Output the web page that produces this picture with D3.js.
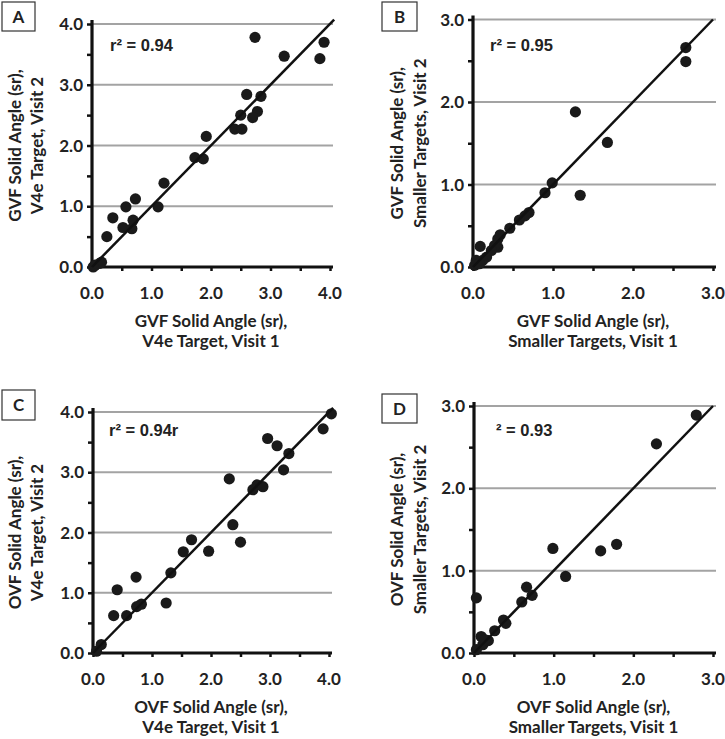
<!DOCTYPE html>
<html><head><meta charset="utf-8">
<script src="https://cdn.jsdelivr.net/npm/d3@7"></script>
<style>body{margin:0;background:#fff}svg{display:block}</style>
</head><body>
<svg id="c" width="725" height="739"></svg>
<script>
// ---- data ----
const panelLetters = ["A","B","C","D"];
const rLabels = ["r² = 0.94","r² = 0.95","r² = 0.94r","² = 0.93"];
const xTitles1 = ["GVF Solid Angle (sr),","GVF Solid Angle (sr),","OVF Solid Angle (sr),","OVF Solid Angle (sr),"];
const xTitles2 = ["V4e Target, Visit 1","Smaller Targets, Visit 1","V4e Target, Visit 1","Smaller Targets, Visit 1"];
const yTitles1 = ["GVF Solid Angle (sr),","GVF Solid Angle (sr),","OVF Solid Angle (sr),","OVF Solid Angle (sr),"];
const yTitles2 = ["V4e Target, Visit 2","Smaller Targets, Visit 2","V4e Target, Visit 2","Smaller Targets, Visit 2"];
const ticks4 = [0,1,2,3,4];
const ticks3 = [0,1,2,3];
const minor4 = [0,0.5,1,1.5,2,2.5,3,3.5,4];
const minor3 = [0,0.5,1,1.5,2,2.5,3];
const domainMax = [4,3,4,3];
const fitEnd = [4.07,3.0,4.07,3.0];

const aX = [2.74,3.90,3.83,3.23,2.60,2.84,2.50,2.78,2.70,2.40,2.52,1.92,1.73,1.87,1.21,1.11,0.73,0.57,0.35,0.69,0.52,0.67,0.25,0.05,0.13,0.16,0.02];
const aY = [3.78,3.70,3.43,3.47,2.84,2.81,2.50,2.56,2.46,2.27,2.27,2.15,1.80,1.78,1.38,0.99,1.12,0.99,0.81,0.77,0.65,0.63,0.50,0.03,0.06,0.08,0.00];

const bX = [2.66,2.66,1.28,1.68,1.34,0.99,0.90,0.70,0.65,0.58,0.46,0.34,0.31,0.31,0.27,0.09,0.17,0.12,0.04,0.02,0.08,0.23];
const bY = [2.66,2.49,1.88,1.51,0.87,1.02,0.90,0.66,0.62,0.57,0.47,0.39,0.34,0.24,0.26,0.25,0.12,0.08,0.08,0.02,0.04,0.20];

const cX = [4.04,3.90,2.96,3.12,3.32,3.23,2.31,2.78,2.71,2.88,2.37,2.50,1.96,1.67,1.53,1.32,1.24,0.73,0.41,0.82,0.74,0.57,0.35,0.14,0.06];
const cY = [3.97,3.72,3.56,3.44,3.31,3.04,2.89,2.79,2.71,2.76,2.13,1.84,1.69,1.88,1.68,1.33,0.83,1.26,1.05,0.81,0.77,0.62,0.62,0.14,0.03];

const dX = [2.79,2.29,0.99,1.79,1.59,1.15,0.66,0.73,0.60,0.37,0.40,0.26,0.03,0.09,0.18,0.11,0.03,0.14];
const dY = [2.89,2.54,1.27,1.32,1.24,0.93,0.80,0.70,0.62,0.40,0.36,0.27,0.67,0.20,0.15,0.10,0.04,0.16];

const allX = [aX,bX,cX,dX];
const allY = [aY,bY,cY,dY];

// ---- layout ----
const layout = [
  {x0:92, x1:330, y0:267, y1:24, box:[2,2,33,29], yt1:15, yt2:37, rl:[110,51]},
  {x0:473, x1:713, y0:267, y1:19.5, box:[382,2,35,29], yt1:397, yt2:420, rl:[490,51]},
  {x0:93, x1:329, y0:653, y1:412, box:[2,390,33,30], yt1:15, yt2:37, rl:[109,436]},
  {x0:474, x1:713, y0:653, y1:406, box:[382,394,35,29], yt1:397, yt2:420, rl:[496,436]}
];

const svg = d3.select("#c");
const FONT = "Lato, 'Open Sans', sans-serif";
const FS = 17;

layout.forEach((L,i)=>{
  const m = domainMax[i];
  const x = d3.scaleLinear().domain([0,m]).range([L.x0,L.x1]);
  const y = d3.scaleLinear().domain([0,m]).range([L.y0,L.y1]);
  const g = svg.append("g");
  const major = m===4?ticks4:ticks3;
  const minor = m===4?minor4:minor3;

  // gridlines
  g.selectAll(".grid").data(major.filter(v=>v>0)).join("line")
    .attr("x1",L.x0).attr("x2",L.x1+3)
    .attr("y1",d=>y(d)).attr("y2",d=>y(d))
    .attr("stroke","#a3a3a3").attr("stroke-width",2);

  // y axis
  const ya = d3.axisLeft(y).tickValues(minor).tickSize(5).tickFormat("");
  const yg = g.append("g").attr("transform",`translate(${L.x0},0)`).call(ya);
  yg.select(".domain").remove();
  yg.selectAll("line").attr("stroke","#111").attr("stroke-width",2.5);
  g.append("line").attr("x1",L.x0).attr("x2",L.x0).attr("y1",L.y1-4).attr("y2",L.y0+1.5)
    .attr("stroke","#111").attr("stroke-width",3.2);
  // x axis
  const xa = d3.axisBottom(x).tickValues(minor).tickSize(4).tickFormat("");
  const xg = g.append("g").attr("transform",`translate(0,${L.y0})`).call(xa);
  xg.select(".domain").remove();
  xg.selectAll("line").attr("stroke","#111").attr("stroke-width",2.5);
  g.append("line").attr("x1",L.x0-1.5).attr("x2",L.x1+3).attr("y1",L.y0).attr("y2",L.y0)
    .attr("stroke","#111").attr("stroke-width",3.2);

  // tick labels
  g.selectAll(".yl").data(major).join("text")
    .attr("x",L.x0-9).attr("y",d=>y(d)).attr("dy","0.36em")
    .attr("text-anchor","end").attr("font-family",FONT).attr("font-weight",700)
    .attr("font-size",FS).attr("fill","#222").text(d=>d.toFixed(1));
  g.selectAll(".xl").data(major).join("text")
    .attr("x",d=>x(d)).attr("y",L.y0+26).attr("dy","0.36em")
    .attr("text-anchor","middle").attr("font-family",FONT).attr("font-weight",700)
    .attr("font-size",FS).attr("fill","#222").text(d=>d.toFixed(1));

  // axis titles
  const xc = (L.x0+L.x1)/2;
  g.append("text").attr("x",xc).attr("y",L.y0+54).attr("dy","0.36em")
    .attr("text-anchor","middle").attr("font-family",FONT).attr("font-weight",700)
    .attr("font-size",FS).attr("fill","#222").text(xTitles1[i]);
  g.append("text").attr("x",xc).attr("y",L.y0+74).attr("dy","0.36em")
    .attr("text-anchor","middle").attr("font-family",FONT).attr("font-weight",700)
    .attr("font-size",FS).attr("fill","#222").text(xTitles2[i]);
  const yc = (L.y0+L.y1)/2;
  [[L.yt1,yTitles1[i]],[L.yt2,yTitles2[i]]].forEach(([px,t])=>{
    g.append("text").attr("transform",`translate(${px},${yc}) rotate(-90)`)
      .attr("dy","0.36em").attr("text-anchor","middle").attr("font-family",FONT)
      .attr("font-weight",700).attr("font-size",FS).attr("fill","#222").text(t);
  });

  // panel letter box
  const [bx,by,bw,bh] = L.box;
  g.append("rect").attr("x",bx).attr("y",by).attr("width",bw).attr("height",bh)
    .attr("fill","#fff").attr("stroke","#333").attr("stroke-width",1.2);
  g.append("text").attr("x",bx+bw/2).attr("y",by+bh/2).attr("dy","0.36em")
    .attr("text-anchor","middle").attr("font-family",FONT).attr("font-weight",700)
    .attr("font-size",FS).attr("fill","#222").text(panelLetters[i]);

  // r² label
  g.append("text").attr("x",L.rl[0]).attr("y",L.rl[1])
    .attr("font-family","'Liberation Sans', Arial, sans-serif").attr("font-weight",700)
    .attr("font-size",16.5).attr("fill","#222").text(rLabels[i]);

  // points
  const pts = allX[i].map((v,k)=>[v,allY[i][k]]);
  g.selectAll(".pt").data(pts).join("circle")
    .attr("cx",d=>x(d[0])).attr("cy",d=>y(d[1])).attr("r",5.6).attr("fill","#1a1a1a");

  // fit line
  g.append("line").attr("x1",x(0)).attr("y1",y(0)).attr("x2",x(fitEnd[i])).attr("y2",y(fitEnd[i]))
    .attr("stroke","#111").attr("stroke-width",2.5);
});
</script>
</body></html>
